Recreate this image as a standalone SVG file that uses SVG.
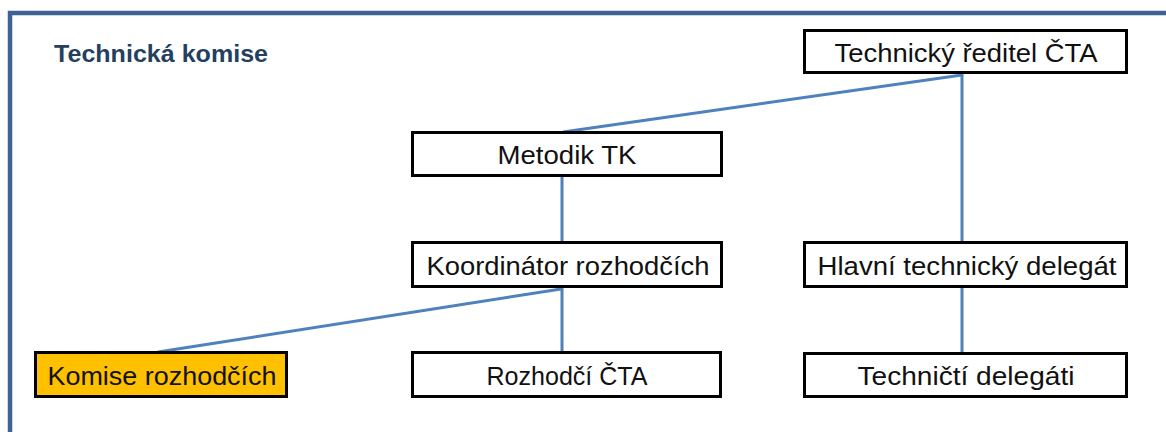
<svg xmlns="http://www.w3.org/2000/svg" width="1166" height="432" viewBox="0 0 1166 432">
<style>
.box{fill:#ffffff;stroke:#000000;stroke-width:3}
.hl{fill:#ffc000}
.t{font-family:"Liberation Sans",Arial,sans-serif;font-size:25px;fill:#111111;text-anchor:middle}
.title{font-family:"Liberation Sans",Arial,sans-serif;font-size:24px;font-weight:bold;fill:#243f60}
.c{stroke:#4f81bd;stroke-width:3;fill:none}
</style>
<rect width="1166" height="432" fill="#ffffff"/>
<rect x="10" y="13" width="1180" height="440" fill="none" stroke="#3f6394" stroke-width="4.5"/>
<text class="title" x="54" y="62" textLength="214" lengthAdjust="spacingAndGlyphs">Technická komise</text>
<g id="connectors">
<line class="c" x1="962" y1="73" x2="962" y2="242"/>
<line class="c" x1="962" y1="75" x2="563" y2="132"/>
<line class="c" x1="562" y1="176" x2="562" y2="242"/>
<line class="c" x1="562" y1="287" x2="562" y2="352"/>
<line class="c" x1="561" y1="289" x2="158" y2="352"/>
<line class="c" x1="962" y1="287" x2="962" y2="353"/>
</g>
<g id="reditel">
<rect class="box" x="804.5" y="30.5" width="322" height="42"/>
<text class="t" x="966" y="62" textLength="263" lengthAdjust="spacingAndGlyphs">Technický ředitel ČTA</text>
</g>
<g id="metodik">
<rect class="box" x="412.5" y="132.5" width="309" height="43"/>
<text class="t" x="567" y="164" textLength="139" lengthAdjust="spacingAndGlyphs">Metodik TK</text>
</g>
<g id="koordinator">
<rect class="box" x="412.5" y="242.5" width="309" height="44"/>
<text class="t" x="568" y="275" textLength="283" lengthAdjust="spacingAndGlyphs">Koordinátor rozhodčích</text>
</g>
<g id="hlavni">
<rect class="box" x="804.5" y="242.5" width="322" height="44"/>
<text class="t" x="967" y="275" textLength="299" lengthAdjust="spacingAndGlyphs">Hlavní technický delegát</text>
</g>
<g id="komise">
<rect class="box hl" x="35.5" y="352.5" width="251" height="44"/>
<text class="t" x="162" y="385" textLength="229" lengthAdjust="spacingAndGlyphs">Komise rozhodčích</text>
</g>
<g id="rozhodci">
<rect class="box" x="412.5" y="352.5" width="308" height="44"/>
<text class="t" x="567" y="385" textLength="161" lengthAdjust="spacingAndGlyphs">Rozhodčí ČTA</text>
</g>
<g id="delegati">
<rect class="box" x="804.5" y="353.5" width="322" height="43"/>
<text class="t" x="966" y="385" textLength="217" lengthAdjust="spacingAndGlyphs">Techničtí delegáti</text>
</g>
</svg>
